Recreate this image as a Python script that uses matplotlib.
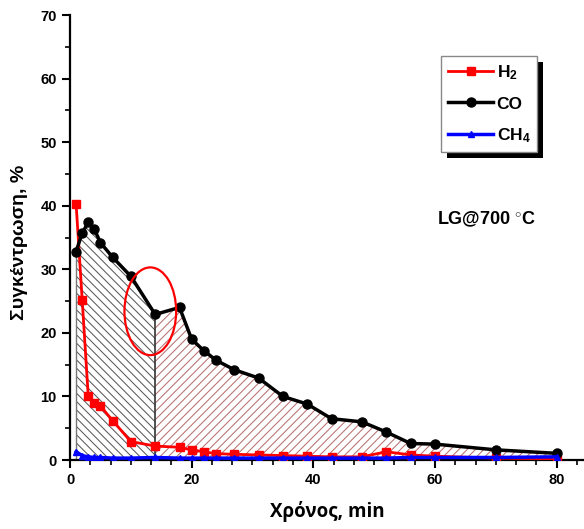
import matplotlib
matplotlib.use("Agg")
import matplotlib.pyplot as plt
from matplotlib.patches import Ellipse, Rectangle
from matplotlib.ticker import MultipleLocator, AutoMinorLocator

plt.rcParams["font.family"] = ["Liberation Sans", "DejaVu Sans"]
plt.rcParams["font.weight"] = "bold"
plt.rcParams["mathtext.fontset"] = "custom"
plt.rcParams["mathtext.bf"] = "Liberation Sans:bold"
plt.rcParams["mathtext.rm"] = "Liberation Sans:bold"
plt.rcParams["mathtext.default"] = "bf"
plt.rcParams["hatch.linewidth"] = 0.75

# Data
time_min = [1, 2, 3, 4, 5, 7, 10, 14, 18, 20, 22, 24, 27, 31, 35, 39, 43, 48, 52, 56, 60, 70, 80]
h2 = [40.3, 25.2, 10.0, 8.9, 8.5, 6.2, 2.9, 2.2, 2.0, 1.6, 1.3, 1.0, 0.9, 0.8, 0.7, 0.6, 0.5, 0.5, 1.3, 0.8, 0.6, 0.3, 0.2]
co = [32.8, 35.7, 37.4, 36.3, 34.2, 31.9, 28.9, 22.9, 24.0, 19.0, 17.2, 15.7, 14.2, 12.9, 10.0, 8.8, 6.5, 6.0, 4.4, 2.6, 2.5, 1.6, 1.05]
ch4 = [1.3, 0.7, 0.5, 0.4, 0.4, 0.3, 0.3, 0.4, 0.3, 0.3, 0.3, 0.3, 0.3, 0.3, 0.3, 0.3, 0.3, 0.3, 0.3, 0.4, 0.4, 0.4, 0.5]
split_time = 14
annotation_label = "LG@700 $^{\\circ}$C"

fig = plt.figure(figsize=(5.84, 5.29), dpi=100)
ax = fig.add_axes([0.1199, 0.1304, 0.8801, 0.8412])

# Hatched areas under the CO curve
first = [t <= split_time for t in time_min]
second = [t >= split_time for t in time_min]
ax.fill_between(time_min, co, 0, where=first, facecolor="none", edgecolor="#5a5a5a",
                hatch="\\\\\\\\", linewidth=0, zorder=1)
ax.fill_between(time_min, co, 0, where=second, facecolor="none", edgecolor="#b87070",
                hatch="////", linewidth=0, zorder=1)
ax.vlines(time_min[0], 0, co[0], color="#777777", lw=1.0, zorder=1.5)
ax.vlines(split_time, 0, co[time_min.index(split_time)], color="#333333", lw=1.2, zorder=1.5)

# Series
ax.plot(time_min, h2, color="#ff0000", lw=2.0, marker="s", markersize=5.5, label="H$_{2}$", zorder=3)
ax.plot(time_min, co, color="black", lw=2.5, marker="o", markersize=6.5, label="CO", zorder=4)
ax.plot(time_min, ch4, color="#0000ff", lw=2.5, marker="^", markersize=5, label="CH$_{4}$", zorder=5)

# Highlight ellipse
ax.add_patch(Ellipse((13.2, 23.4), 8.5, 13.8, facecolor="none", edgecolor="red", lw=1.6, zorder=6))

ax.set_xlim(0, 84.5)
ax.set_ylim(0, 70)
ax.spines["top"].set_visible(False)
ax.spines["right"].set_visible(False)
for s in ("left", "bottom"):
    ax.spines[s].set_linewidth(1.6)
ax.xaxis.set_major_locator(MultipleLocator(20))
ax.xaxis.set_minor_locator(AutoMinorLocator(6))
ax.yaxis.set_major_locator(MultipleLocator(10))
ax.yaxis.set_minor_locator(MultipleLocator(5))
ax.tick_params(which="major", length=6, width=1.5, labelsize=10.5, direction="out")
ax.tick_params(which="minor", length=3.5, width=1.2, direction="out")
for lab in ax.get_xticklabels() + ax.get_yticklabels():
    lab.set_fontweight("bold")

ax.set_ylabel("Συγκέντρωση, %", fontsize=14, fontweight="bold")
ax.yaxis.set_label_coords(-0.082, 0.49)
ax.set_xlabel("Χρόνος, min", fontsize=13.5, fontweight="bold", family=["Open Sans", "DejaVu Sans"])
ax.xaxis.set_label_coords(0.5, -0.093)

ax.text(0.81, 0.54, annotation_label, transform=ax.transAxes, fontsize=13, fontweight="bold",
        ha="center", va="center")

leg = ax.legend(loc="upper left", bbox_to_anchor=(0.722, 0.908), fontsize=12.5, handlelength=2.6,
                handletextpad=0.2, labelspacing=0.85, borderpad=0.4, borderaxespad=0,
                fancybox=False, edgecolor="#888888", framealpha=1)
for txt in leg.get_texts():
    txt.set_fontweight("bold")
leg.set_zorder(10)

# Solid black drop shadow behind the legend box
fig.canvas.draw()
bb = leg.get_frame().get_window_extent().transformed(fig.transFigure.inverted())
shadow = Rectangle((bb.x0 + 6 / 584, bb.y0 - 6 / 529), bb.width, bb.height, transform=fig.transFigure,
                   facecolor="black", edgecolor="none", zorder=9)
ax.add_artist(shadow)
shadow.set_clip_on(False)

fig.savefig("out.png", dpi=100)
plt.close(fig)
